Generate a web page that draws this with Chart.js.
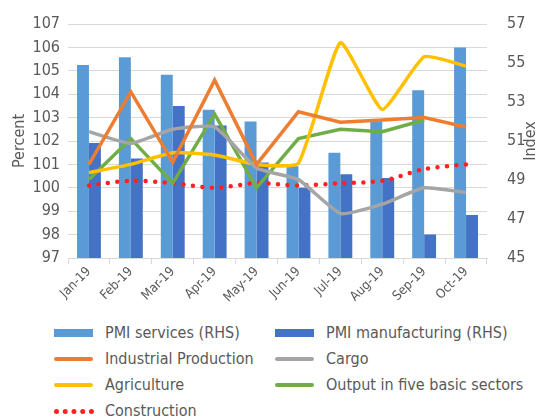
<!DOCTYPE html>
<html>
<head>
<meta charset="utf-8">
<script src="https://cdn.jsdelivr.net/npm/chart.js@4"></script>
<style>
  body { margin: 0; background: #fff; font-family: 'DejaVu Sans Condensed', 'DejaVu Sans', sans-serif; }
  #chart { display: block; }
  #legend { position: absolute; left: 0; top: 318px; width: 547px; color: #595959; font-size: 16px; }
  .item { position: absolute; height: 20px; line-height: 20px; white-space: nowrap; }
  .sw { position: absolute; left: 0; top: 10px; width: 39px; }
  .lbl { position: absolute; left: 51px; top: 0; }
</style>
</head>
<body>
<canvas id="chart" width="547" height="318"></canvas>
<div id="legend"></div>
<script>
var months = ['Jan-19', 'Feb-19', 'Mar-19', 'Apr-19', 'May-19', 'Jun-19', 'Jul-19', 'Aug-19', 'Sep-19', 'Oct-19'];

// right axis (index)
var pmiServices = [54.9, 55.3, 54.4, 52.6, 52.0, 49.7, 50.4, 52.0, 53.6, 55.8];
var pmiManufacturing = [50.9, 50.1, 52.8, 51.8, 49.9, 48.6, 49.3, 49.1, 46.2, 47.2];

// left axis (percent)
var industrialProduction = [101.0, 104.1, 101.1, 104.6, 101.0, 103.25, 102.8, 102.9, 103.0, 102.6];
var cargo = [102.4, 101.9, 102.5, 102.6, 100.85, 100.35, 98.9, 99.3, 100.0, 99.8];
var agriculture = [100.65, 101.0, 101.5, 101.4, 101.0, 101.05, 106.2, 103.35, 105.6, 105.2];
var fiveSectors = [100.35, 102.1, 100.2, 103.15, 100.0, 102.1, 102.5, 102.4, 102.9, null];
var construction = [100.1, 100.3, 100.2, 100.0, 100.2, 100.1, 100.2, 100.3, 100.8, 101.0];

var leftTicks = [97, 98, 99, 100, 101, 102, 103, 104, 105, 106, 107];
var rightTicks = [45, 47, 49, 51, 53, 55, 57];

var txt = '#595959';
var fontFam = "'DejaVu Sans Condensed', 'DejaVu Sans', sans-serif";

function lineSet(label, data, color, tension) {
    return {
        type: 'line',
        label: label,
        data: data,
        yAxisID: 'y',
        borderColor: color,
        backgroundColor: color,
        borderWidth: 3.5,
        pointRadius: 0,
        tension: tension,
        order: 1
    };
}

// right-hand title, drawn reading upwards like the left one
var indexTitle = {
    id: 'indexTitle',
    afterDraw: function (chart) {
        var c = chart.ctx, area = chart.chartArea;
        c.save();
        c.translate(531, (area.top + area.bottom) / 2);
        c.rotate(-Math.PI / 2);
        c.fillStyle = txt;
        c.font = '16px ' + fontFam;
        c.textAlign = 'center';
        c.textBaseline = 'middle';
        c.fillText('Index', 0, 0);
        c.restore();
    }
};

var ctx = document.getElementById('chart').getContext('2d');
var chart = new Chart(ctx, {
    type: 'bar',
    data: {
        labels: months,
        datasets: [{
            label: 'PMI services (RHS)',
            data: pmiServices,
            yAxisID: 'y1',
            backgroundColor: '#5b9bd5',
            categoryPercentage: 0.57,
            barPercentage: 1,
            order: 10
        }, {
            label: 'PMI manufacturing (RHS)',
            data: pmiManufacturing,
            yAxisID: 'y1',
            backgroundColor: '#4472c4',
            categoryPercentage: 0.57,
            barPercentage: 1,
            order: 10
        },
        lineSet('Industrial Production', industrialProduction, '#ed7d31', 0),
        lineSet('Cargo', cargo, '#a5a5a5', 0.15),
        lineSet('Agriculture', agriculture, '#ffc000', 0.15),
        lineSet('Output in five basic sectors', fiveSectors, '#70ad47', 0),
        Object.assign(lineSet('Construction', construction, '#ff2020', 0.3), {
            borderDash: [0, 9.5],
            borderCapStyle: 'round',
            borderWidth: 4.5
        })]
    },
    options: {
        responsive: false,
        animation: false,
        layout: { padding: { top: 24, left: 0, right: 0, bottom: 0 } },
        plugins: {
            legend: { display: false },
            tooltip: { enabled: false }
        },
        scales: {
            x: {
                offset: true,
                grid: {
                    offset: true,
                    drawOnChartArea: false,
                    color: '#d9d9d9',
                    tickLength: 6
                },
                border: { color: '#d9d9d9' },
                ticks: {
                    color: txt,
                    font: { family: fontFam, size: 13 },
                    maxRotation: 45,
                    minRotation: 45,
                    padding: 0
                },
                afterFit: function (scale) { scale.height = 60; }
            },
            y: {
                position: 'left',
                min: 97,
                max: 107,
                afterBuildTicks: function (scale) {
                    scale.ticks = leftTicks.map(function (v) { return { value: v }; });
                },
                grid: { color: '#d9d9d9', drawTicks: false },
                border: { display: false },
                ticks: {
                    color: txt,
                    autoSkip: false,
                    font: { family: fontFam, size: 16 },
                    padding: 8
                },
                title: {
                    display: true,
                    text: 'Percent',
                    color: txt,
                    font: { family: fontFam, size: 16 },
                    padding: { top: 10, bottom: 0 }
                },
                afterFit: function (scale) { scale.width = 68; }
            },
            y1: {
                position: 'right',
                min: 45,
                max: 57,
                afterBuildTicks: function (scale) {
                    scale.ticks = rightTicks.map(function (v) { return { value: v }; });
                },
                grid: { display: false },
                border: { display: false },
                ticks: {
                    color: txt,
                    autoSkip: false,
                    font: { family: fontFam, size: 16 },
                    padding: 12
                },
                afterFit: function (scale) { scale.width = 60; }
            }
        }
    },
    plugins: [indexTitle]
});

// two-column legend built from the datasets
var legendEl = document.getElementById('legend');
chart.data.datasets.forEach(function (ds, i) {
    var col = i % 2, row = Math.floor(i / 2);
    var item = document.createElement('div');
    item.className = 'item';
    item.style.left = (col === 0 ? 54 : 275) + 'px';
    item.style.top = (5 + row * 26) + 'px';
    var sw = document.createElement('div');
    sw.className = 'sw';
    if (ds.type === 'line') {
        if (ds.borderDash) {
            sw.style.height = '0';
            sw.style.borderTop = '5px dotted ' + ds.borderColor;
            sw.style.top = '8px';
            sw.style.width = '40px';
        } else {
            sw.style.height = '4px';
            sw.style.top = '8px';
            sw.style.borderRadius = '2px';
            sw.style.background = ds.borderColor;
        }
    } else {
        sw.style.height = '8px';
        sw.style.top = '6px';
        sw.style.background = ds.backgroundColor;
    }
    var lbl = document.createElement('div');
    lbl.className = 'lbl';
    lbl.textContent = ds.label;
    item.appendChild(sw);
    item.appendChild(lbl);
    legendEl.appendChild(item);
});
</script>
</body>
</html>
